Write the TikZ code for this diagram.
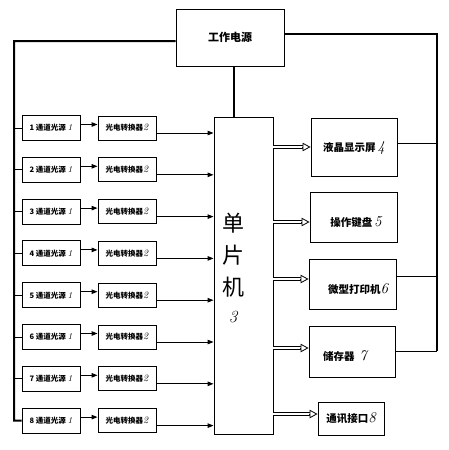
\documentclass[tikz,border=0pt]{standalone}
\usepackage{fontspec}
\newfontfamily\cjk{Noto Sans CJK SC}
\usetikzlibrary{arrows.meta,calc}
\begin{document}
\begin{tikzpicture}[x=1pt,y=-1pt,
  box/.style={draw,line width=0.9pt,rectangle,inner sep=0pt},
  srcbox/.style={box,minimum width=58pt,minimum height=25pt,font=\cjk\bfseries\fontsize{7.5}{9}\selectfont},
  cvtbox/.style={box,minimum width=58pt,minimum height=24pt,font=\cjk\bfseries\fontsize{7.5}{9}\selectfont},
  rbox/.style={box},
  rlabel/.style={font=\cjk\bfseries\fontsize{10.5}{12}\selectfont},
  bus/.style={line width=2pt},
  thin/.style={line width=0.9pt},
  arr/.style={line width=0.9pt,-{Triangle[length=6pt,width=4.5pt]}},
  dblline/.style={double,double distance=2.4pt,line width=0.7pt},
  openhead/.style={line width=0.8pt,-{Triangle[length=8pt,width=8.5pt,fill=white]}},
]
\useasboundingbox (0,0) rectangle (448,450);
% power
\node[box,minimum width=108pt,minimum height=57pt,font=\cjk\bfseries\fontsize{11}{13}\selectfont] (PWR) at (230,37.5) {工作电源};
% MCU
\node[box,minimum width=59pt,minimum height=317pt] (MCU) at (243.5,275.5) {};
\node[font=\cjk\fontsize{22}{32}\selectfont,align=center] (MCUT) at (233,268) {单\\片\\机\\[-5pt]{\normalfont\itshape\fontsize{17}{17}\selectfont 3}};
% channels
\foreach \i in {1,...,8}{
  \pgfmathsetmacro{\yc}{128+41.8*(\i-1)}
  \node[srcbox] (S\i) at (51,\yc) {\i\ 通道光源\ {\normalfont\itshape\fontsize{9}{9}\selectfont 1}};
  \node[cvtbox] (C\i) at (127,\yc) {光电转换器{\normalfont\itshape\fontsize{10}{10}\selectfont 2}};
  \draw[arr] ([yshift=3.5pt]S\i.east) -- ([yshift=3.5pt]C\i.west);
  \draw[arr] ([yshift=-5pt]C\i.east) -- ([yshift=-5pt]C\i.east -| MCU.west);
}
% left bus
\coordinate (BL) at (14,420.6);
\draw[bus] ([yshift=-3.5pt]PWR.west) -| (BL) -- (S8.west);
\foreach \i in {1,...,7}{
  \draw[thin] (S\i.west) -- (S\i.west -| BL);
}
% power to MCU
\draw[bus] ([xshift=4pt]PWR.south) -- ([xshift=4pt]PWR.south |- MCU.north);
% right boxes
\node[rbox,minimum width=86pt,minimum height=58pt] (LCD) at (354,147) {};
\node[rlabel] (LCDT) at (354,148) {液晶显示屏\,{\normalfont\itshape\fontsize{15}{15}\selectfont 4}};
\node[rbox,minimum width=87pt,minimum height=50pt] (KB) at (353.5,217) {};
\node[rlabel] (KBT) at (356,222) {操作键盘\,{\normalfont\itshape\fontsize{15}{15}\selectfont 5}};
\node[rbox,minimum width=87pt,minimum height=50pt] (PR) at (352.5,284) {};
\node[rlabel] (PRT) at (358,289) {微型打印机{\normalfont\itshape\fontsize{15}{15}\selectfont 6}};
\node[rbox,minimum width=86pt,minimum height=51pt] (ST) at (352,351.5) {};
\node[rlabel] (STT) at (345,356) {储存器\ \ {\normalfont\itshape\fontsize{15}{15}\selectfont 7}};
\node[rbox,minimum width=66pt,minimum height=33pt] (CM) at (351,418.5) {};
\node[rlabel] (CMT) at (351,418.5) {通讯接口{\normalfont\itshape\fontsize{15}{15}\selectfont 8}};
% double arrows
\foreach \b/\s in {LCD/0pt,KB/-5pt,PR/5pt,ST/3.5pt,CM/4.5pt}{
  \draw[dblline] ([yshift=\s]\b.west -| MCU.east) -- ([yshift=\s,xshift=-8pt]\b.west);
  \draw[openhead] ([yshift=\s,xshift=-8.6pt]\b.west) -- ([yshift=\s]\b.west);
}
% right bus
\coordinate (BR) at (437,351);
\draw[bus] ([yshift=3.5pt]PWR.east) -| (BR);
\draw[thin] ([yshift=4pt]LCD.east) -- ([yshift=4pt]LCD.east -| BR);
\draw[thin] ([yshift=8pt]PR.east) -- ([yshift=8pt]PR.east -| BR);
\draw[thin] (ST.east |- BR) -- (BR);
\end{tikzpicture}
\end{document}
